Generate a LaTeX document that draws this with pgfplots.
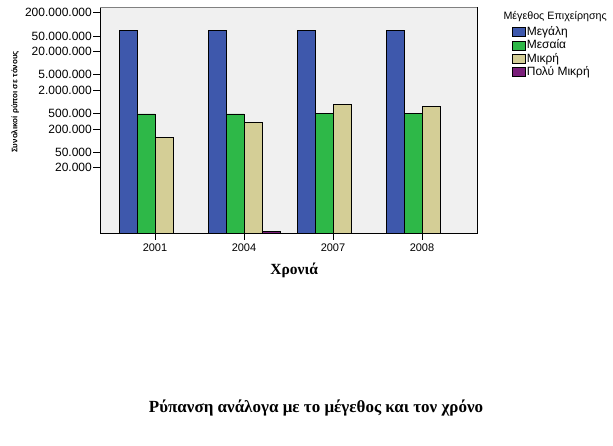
\documentclass[border=0pt]{standalone}
\usepackage{fontspec}
\setmainfont{Liberation Serif}
\setsansfont{Liberation Sans}
\usepackage{pgfplots}
\pgfplotsset{compat=1.18}
\definecolor{cBlue}{HTML}{3E58AC}
\definecolor{cGreen}{HTML}{2EB848}
\definecolor{cTan}{HTML}{D4CE96}
\definecolor{cPurple}{HTML}{7A1F7A}
\definecolor{bgGray}{HTML}{F0F0F0}
\begin{document}
\begin{tikzpicture}
\useasboundingbox (0pt,0pt) rectangle (613pt,446pt);
\begin{axis}[
  at={(100pt,213pt)}, anchor=south west,
  scale only axis, width=377pt, height=226pt,
  ymode=log, log origin y=infty,
  ymin=417, ymax=2.79e8,
  xmin=-0.618, xmax=3.618,
  ybar=0pt, bar width=18pt,
  axis background/.style={fill=bgGray},
  axis line style={black, line width=0.8pt},
  xtick={0,1,2,3}, xticklabels={2001,2004,2007,2008},
  ytick={2e4,5e4,2e5,5e5,2e6,5e6,2e7,5e7,2e8},
  yticklabels={20.000,50.000,200.000,500.000,2.000.000,5.000.000,20.000.000,50.000.000,200.000.000},
  yminorticks=false, xminorticks=false,
  tick align=outside, tick pos=left,
  major tick length=7pt,
  tick style={black, line width=0.6pt},
  yticklabel style={font=\sffamily\fontsize{12}{14}\selectfont, inner sep=1pt},
  xticklabel style={font=\sffamily\fontsize{11}{13}\selectfont},
  xlabel={Χρονιά},
  xlabel style={font=\bfseries\fontsize{15.5}{18}\selectfont, at={(axis description cs:0.515,-0.164)}, anchor=center},
  ylabel={Συνολικοί ρύποι σε τόνους},
  ylabel style={font=\sffamily\bfseries\fontsize{8}{10}\selectfont, at={(axis description cs:-0.225,0.58)}, anchor=center},
  legend style={at={(axis description cs:1.093,0.916)}, anchor=north west, draw=none, fill=none,
    font=\sffamily\fontsize{12}{14}\selectfont, row sep=1.3pt, inner sep=0pt,
    nodes={inner sep=1pt, text height=8.5pt, text depth=1.5pt}},
  legend cell align=left,
  legend image code/.code={\draw[#1, draw=black, line width=0.6pt] (0pt,-4.5pt) rectangle (13pt,4.5pt);},
  every axis plot/.append style={draw=black, line width=0.6pt},
  after end axis/.code={\draw[gray, line width=0.8pt] (rel axis cs:0,1) -- (rel axis cs:1,1);},
]
\addplot[fill=cBlue] coordinates {(0,6.9e7) (1,7.1e7) (2,7.1e7) (3,6.9e7)};
\addplot[fill=cGreen] coordinates {(0,4.9e5) (1,4.9e5) (2,5.0e5) (3,5.0e5)};
\addplot[fill=cTan] coordinates {(0,1.23e5) (1,3.0e5) (2,8.6e5) (3,7.7e5)};
\addplot[fill=cPurple] coordinates {(1,460)};
\legend{Μεγάλη,Μεσαία,Μικρή,Πολύ Μικρή}
\end{axis}
\node[anchor=west, font=\sffamily\fontsize{10.7}{12}\selectfont] at (500pt,429pt) {Μέγεθος Επιχείρησης};
\node[font=\bfseries\fontsize{17}{20}\selectfont] at (316pt,38pt) {Ρύπανση ανάλογα με το μέγεθος και τον χρόνο};
\end{tikzpicture}
\end{document}
